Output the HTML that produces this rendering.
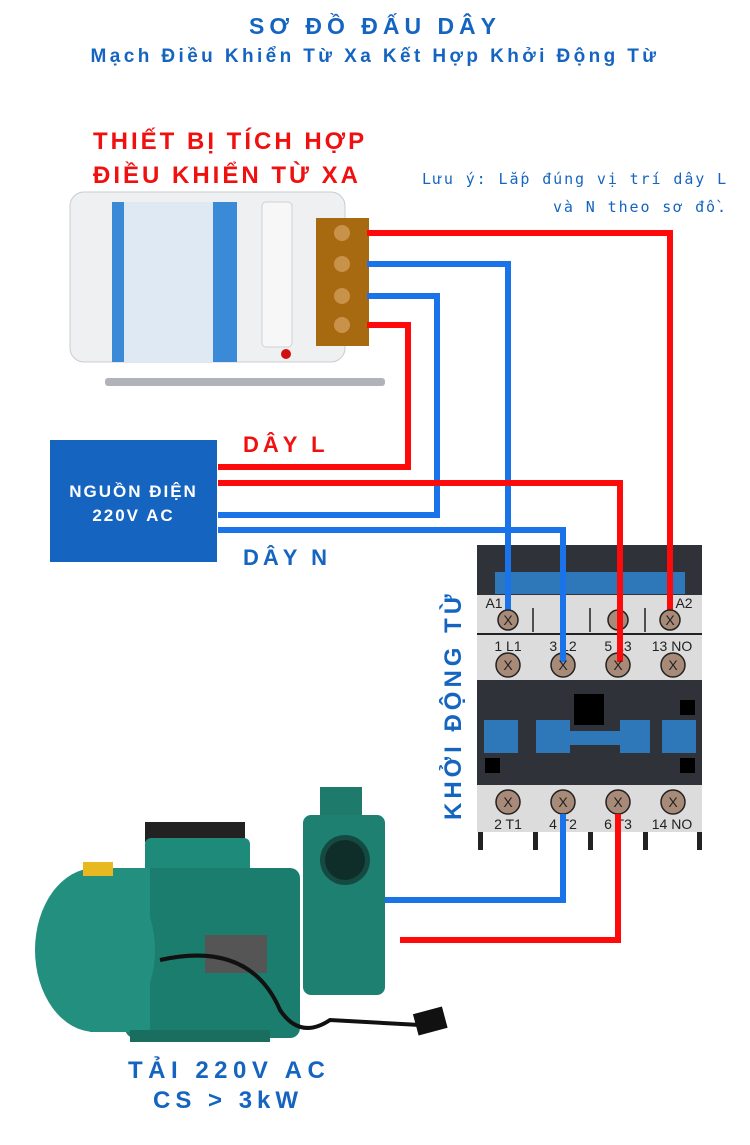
<!DOCTYPE html>
<html><head><meta charset="utf-8"><style>
body{margin:0;width:750px;height:1145px;background:#fff;overflow:hidden;position:relative;font-family:"Liberation Sans","DejaVu Sans",sans-serif}
.t{position:absolute;white-space:nowrap;font-weight:bold}
</style></head><body>
<div class="t" style="left:0;width:750px;text-align:center;top:13px;color:#1565c0;font-size:23px;letter-spacing:5px">SƠ ĐỒ ĐẤU DÂY</div>
<div class="t" style="left:0;width:750px;text-align:center;top:46px;color:#1565c0;font-size:19px;letter-spacing:3.4px">Mạch Điều Khiển Từ Xa Kết Hợp Khởi Động Từ</div>
<div class="t" style="left:93px;top:128px;color:#f01010;font-size:24px;letter-spacing:3px">THIẾT BỊ TÍCH HỢP</div>
<div class="t" style="left:93px;top:162px;color:#f01010;font-size:24px;letter-spacing:3px">ĐIỀU KHIỂN TỪ XA</div>
<div class="t" style="left:422px;top:170px;color:#1565c0;font-size:15px;font-weight:normal;letter-spacing:1.9px;font-family:'DejaVu Sans Mono','Liberation Mono',monospace">Lưu ý: Lắp đúng vị trí dây L</div>
<div class="t" style="left:553px;top:198px;color:#1565c0;font-size:15px;font-weight:normal;letter-spacing:1.9px;font-family:'DejaVu Sans Mono','Liberation Mono',monospace">và N theo sơ đồ.</div>
<div class="t" style="left:243px;top:432px;color:#f01010;font-size:22px;letter-spacing:4px">DÂY L</div>
<div class="t" style="left:243px;top:545px;color:#1565c0;font-size:22px;letter-spacing:4px">DÂY N</div>
<div style="position:absolute;left:50px;top:440px;width:167px;height:122px;background:#1565c0;color:#fff;font-weight:bold;font-size:17px;letter-spacing:2px;text-align:center;line-height:24px;padding-top:40px;box-sizing:border-box">NGUỒN ĐIỆN<br>220V AC</div>
<div class="t" style="left:128px;top:1057px;color:#1565c0;font-size:24px;letter-spacing:5.5px">TẢI 220V AC</div>
<div class="t" style="left:153px;top:1087px;color:#1565c0;font-size:24px;letter-spacing:5px">CS &gt; 3kW</div>
<div class="t" style="color:#1565c0;font-size:24px;letter-spacing:4px;transform:rotate(-90deg);transform-origin:0 0;top:820px;left:440px">KHỞI ĐỘNG TỪ</div>

<svg width="750" height="1145" style="position:absolute;left:0;top:0">
<!-- remote -->
<rect x="70" y="192" width="275" height="170" rx="14" fill="#eef0f2" stroke="#c9ccd0"/>
<rect x="112" y="202" width="125" height="160" rx="8" fill="#dfe9f3"/>
<rect x="112" y="202" width="12" height="160" fill="#3a8ad8"/>
<rect x="213" y="202" width="24" height="160" fill="#3a8ad8"/>
<rect x="262" y="202" width="30" height="145" rx="4" fill="#f7f7f7" stroke="#d0d0d0"/>
<rect x="316" y="218" width="53" height="128" fill="#a86a10"/>
<circle cx="342" cy="233" r="8" fill="#c9924a"/><circle cx="342" cy="264" r="8" fill="#c9924a"/><circle cx="342" cy="296" r="8" fill="#c9924a"/><circle cx="342" cy="325" r="8" fill="#c9924a"/>
<circle cx="286" cy="354" r="5" fill="#d01010"/>
<rect x="105" y="378" width="280" height="8" rx="3" fill="#b0b4b8"/>
<!-- wires -->
<g fill="none" stroke-width="6" stroke-linejoin="miter">
<polyline stroke="#ff0a0a" points="367,233 670,233 670,610"/>
<polyline stroke="#1a73e8" points="367,264 508,264 508,610"/>
<polyline stroke="#1a73e8" points="367,296 437,296 437,515 218,515"/>
<polyline stroke="#ff0a0a" points="367,325 408,325 408,467 218,467"/>
<polyline stroke="#ff0a0a" points="218,483 620,483 620,658"/>
<polyline stroke="#1a73e8" points="218,530 563,530 563,658"/>
</g>
<!-- contactor -->
<rect x="477" y="545" width="225" height="52" fill="#2f3238"/>
<rect x="495" y="572" width="190" height="22" fill="#2e77b8"/>
<rect x="477" y="595" width="225" height="38" fill="#dcdcdc"/>
<line x1="477" y1="634" x2="702" y2="634" stroke="#222" stroke-width="2"/>
<rect x="477" y="635" width="225" height="45" fill="#dcdcdc"/>
<g stroke="#222" stroke-width="1.5"><line x1="533" y1="608" x2="533" y2="632"/><line x1="590" y1="608" x2="590" y2="632"/><line x1="645" y1="608" x2="645" y2="632"/></g>
<rect x="477" y="680" width="225" height="105" fill="#2f3238"/>
<rect x="484" y="720" width="34" height="33" fill="#2e77b8"/>
<rect x="536" y="720" width="34" height="33" fill="#2e77b8"/>
<rect x="570" y="731" width="50" height="14" fill="#2e77b8"/>
<rect x="620" y="720" width="30" height="33" fill="#2e77b8"/>
<rect x="662" y="720" width="34" height="33" fill="#2e77b8"/>
<rect x="574" y="694" width="30" height="31" fill="#000"/>
<rect x="680" y="700" width="15" height="15" fill="#000"/><rect x="485" y="758" width="15" height="15" fill="#000"/><rect x="680" y="758" width="15" height="15" fill="#000"/>
<rect x="477" y="785" width="225" height="47" fill="#dcdcdc"/>
<g fill="#222"><rect x="478" y="832" width="5" height="18"/><rect x="533" y="832" width="5" height="18"/><rect x="588" y="832" width="5" height="18"/><rect x="643" y="832" width="5" height="18"/><rect x="697" y="832" width="5" height="18"/></g>
<g font-family="Liberation Sans" font-size="14" fill="#222" text-anchor="middle">
<text x="494" y="608">A1</text><text x="684" y="608">A2</text>
<text x="508" y="651">1 L1</text><text x="563" y="651">3 L2</text><text x="618" y="651">5 L3</text><text x="672" y="651">13 NO</text>
<text x="508" y="829">2 T1</text><text x="563" y="829">4 T2</text><text x="618" y="829">6 T3</text><text x="672" y="829">14 NO</text>
</g>
<g fill="none" stroke-width="6">
<line stroke="#1a73e8" x1="508" y1="540" x2="508" y2="612"/>
<line stroke="#1a73e8" x1="563" y1="540" x2="563" y2="658"/>
<line stroke="#ff0a0a" x1="620" y1="540" x2="620" y2="658"/>
<line stroke="#ff0a0a" x1="670" y1="540" x2="670" y2="612"/>
</g>
<g fill="#a88a78" stroke="#222" stroke-width="1.5">
<circle cx="508" cy="620" r="10"/><circle cx="670" cy="620" r="10"/>
<circle cx="508" cy="665" r="12"/><circle cx="673" cy="665" r="12"/>
<circle cx="508" cy="802" r="12"/><circle cx="563" cy="802" r="12"/><circle cx="618" cy="802" r="12"/><circle cx="673" cy="802" r="12"/>
</g>
<circle cx="618" cy="620" r="10" fill="#a88a78" stroke="#222" stroke-width="1.5"/>
<circle cx="563" cy="665" r="12" fill="#a88a78" stroke="#222" stroke-width="1.5"/>
<circle cx="618" cy="665" r="12" fill="#a88a78" stroke="#222" stroke-width="1.5"/>
<line stroke="#ff0a0a" stroke-width="6" x1="620" y1="600" x2="620" y2="662"/>
<line stroke="#1a73e8" stroke-width="6" x1="563" y1="600" x2="563" y2="662"/>
<g font-family="Liberation Sans" font-size="14" fill="#222" text-anchor="middle">
<text x="508" y="625">X</text><text x="670" y="625">X</text>
<text x="508" y="670">X</text><text x="563" y="670">X</text><text x="618" y="670">X</text><text x="673" y="670">X</text>
<text x="508" y="807">X</text><text x="563" y="807">X</text><text x="618" y="807">X</text><text x="673" y="807">X</text>
</g>
<g fill="none" stroke-width="6">
<polyline stroke="#1a73e8" points="563,814 563,900 385,900"/>
<polyline stroke="#ff0a0a" points="618,814 618,940 400,940"/>
</g>
<!-- pump -->
<rect x="320" y="787" width="42" height="30" fill="#1e7a6a"/>
<rect x="303" y="815" width="82" height="180" rx="8" fill="#1d8070"/>
<circle cx="345" cy="860" r="25" fill="#154a42"/>
<circle cx="345" cy="860" r="20" fill="#0f2e2a"/>
<rect x="145" y="822" width="100" height="20" fill="#222"/>
<rect x="145" y="838" width="105" height="60" rx="6" fill="#1e8a7a"/>
<rect x="125" y="868" width="175" height="170" rx="10" fill="#1b7d6d"/>
<ellipse cx="95" cy="950" rx="60" ry="82" fill="#23907f"/>
<rect x="90" y="868" width="60" height="164" fill="#23907f"/>
<rect x="83" y="862" width="30" height="14" fill="#e8b820"/>
<rect x="205" y="935" width="62" height="38" fill="#555"/>
<rect x="130" y="1030" width="140" height="12" fill="#1a6e60"/>
<path d="M160 960 Q250 940 280 1010 Q300 1040 330 1020 L420 1025" stroke="#111" stroke-width="4" fill="none"/>
<rect x="415" y="1010" width="30" height="22" fill="#111" transform="rotate(-15 430 1020)"/>
</svg>
</body></html>
